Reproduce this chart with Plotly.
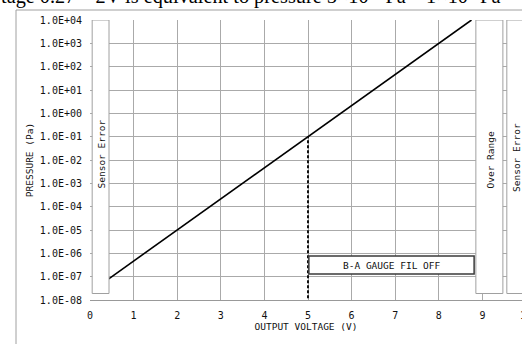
import plotly.graph_objects as go

# data
voltage = [0.43, 5.0, 8.75]
pressure = [8.1e-8, 1.0e-1, 1.0e4]
x_ticks = [0, 1, 2, 3, 4, 5, 6, 7, 8, 9, 10]
y_ticks = [1e-8, 1e-7, 1e-6, 1e-5, 1e-4, 1e-3, 1e-2, 1e-1, 1e0, 1e1, 1e2, 1e3, 1e4]
y_ticktext = ["1.0E-08", "1.0E-07", "1.0E-06", "1.0E-05", "1.0E-04", "1.0E-03", "1.0E-02",
              "1.0E-01", "1.0E+00", "1.0E+01", "1.0E+02", "1.0E+03", "1.0E+04"]
fil_off_v = 5.0
fil_off_p = [1.2e-8, 1.0e-1]

W, H = 522, 344
ML, MR, MT, MB = 90, 0, 20, 44
PW, PH = W - ML - MR, H - MT - MB
XMAX = PW / 43.6

def px(x):
    return (x - ML) / PW

def py(y):
    return (H - MB - y) / PH

MONO = "DejaVu Sans Mono"
GRID = "#aaaaaa"
BOX = "#a0a0a0"
TXT = "#111111"

fig = go.Figure()

fig.add_trace(go.Scatter(x=voltage, y=pressure, mode="lines",
                         line=dict(color="black", width=1.6), showlegend=False,
                         hoverinfo="skip"))

shapes = []
# outer frame (partially visible)
shapes.append(dict(type="rect", xref="paper", yref="paper", x0=px(16), x1=1.3, y0=-0.5, y1=py(10),
                   line=dict(color=BOX, width=1), layer="below"))
# error / range boxes
for x0, x1 in [(0.05, 0.436), (8.85, 9.47), (9.56, 11.0)]:
    shapes.append(dict(type="rect", xref="x", yref="y", x0=x0, x1=x1, y0=1.9e-8, y1=1e4,
                       line=dict(color=BOX, width=1), fillcolor="white", layer="above"))
# FIL OFF dashed line
shapes.append(dict(type="line", xref="x", yref="y", x0=fil_off_v, x1=fil_off_v,
                   y0=fil_off_p[0], y1=fil_off_p[1],
                   line=dict(color="#111111", width=2, dash="3px,2px")))
# FIL OFF label box
shapes.append(dict(type="rect", xref="x", yref="y", x0=5.02, x1=8.81, y0=10**-6.89, y1=10**-6.11,
                   line=dict(color="#3a3a3a", width=1.5), fillcolor="white"))
fig.update_layout(shapes=shapes)

def note(text, x, y, size=9.5, angle=0):
    return dict(text=text, xref="paper", yref="paper", x=px(x), y=py(y),
                xanchor="center", yanchor="middle", textangle=angle, showarrow=False,
                font=dict(family=MONO, size=size, color=TXT))

ann = [
    note("B-A GAUGE FIL OFF", 391.5, 265),
    note("Sensor Error", 100.5, 154, angle=-90),
    note("Over Range", 489.5, 160, angle=-90),
    note("Sensor Error", 516, 158, angle=-90),
    note("10", 90 + 10 * 43.6, 315, size=10),
]
ann.append(dict(text="tage 0.27 – 2V is equivalent to pressure 5×10<sup>-8</sup> Pa – 1×10<sup>4</sup> Pa",
                xref="paper", yref="paper", x=px(-1), y=py(10), xanchor="left", yanchor="bottom",
                showarrow=False, font=dict(family="Liberation Serif", size=20.3, color="black")))
fig.update_layout(annotations=ann)

fig.update_layout(
    width=W, height=H,
    margin=dict(l=ML, r=MR, t=MT, b=MB, pad=0, autoexpand=False),
    paper_bgcolor="white", plot_bgcolor="white",
    font=dict(family=MONO, size=10, color=TXT),
    xaxis=dict(range=[0, XMAX], tickvals=x_ticks, ticktext=[str(v) for v in x_ticks],
               showgrid=True, gridcolor=GRID, gridwidth=1, zeroline=False, automargin=False,
               showline=True, linecolor="#999999", linewidth=1, ticks="",
               ticklabelstandoff=6,
               title=dict(text="OUTPUT VOLTAGE (V)", font=dict(family=MONO, size=9.5), standoff=0)),
    yaxis=dict(type="log", range=[-8, 4], tickvals=y_ticks, ticktext=y_ticktext,
               showgrid=True, gridcolor=GRID, gridwidth=1, zeroline=False, automargin=False,
               showline=False, ticks="", ticklabelstandoff=7,
               title=dict(text="PRESSURE (Pa)", font=dict(family=MONO, size=9.5), standoff=4)),
)

fig.write_html("out.html", config={"displayModeBar": False},
               post_script="document.body.style.margin='0';document.body.style.overflow='hidden';")
